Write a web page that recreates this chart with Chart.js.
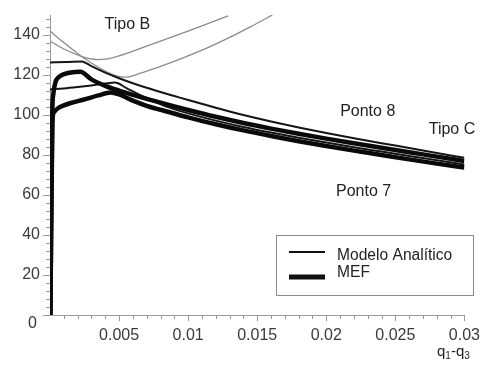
<!DOCTYPE html>
<html>
<head>
<meta charset="utf-8">
<script src="https://cdn.jsdelivr.net/npm/chart.js@4.4.0/dist/chart.umd.min.js"></script>
<style>
  html, body { margin: 0; padding: 0; background: #fff; }
  #wrap { width: 486px; height: 367px; }
</style>
</head>
<body>
<div id="wrap"><canvas id="grafico"></canvas></div>
<script>
// eixos
var xMajor = [0.005, 0.01, 0.015, 0.02, 0.025, 0.03];
var xMajorLabels = ['0.005', '0.01', '0.015', '0.02', '0.025', '0.03'];
var yMajor = [0, 20, 40, 60, 80, 100, 120, 140];
var yMajorLabels = ['0', '20', '40', '60', '80', '100', '120', '140'];

// Modelo Analitico - Ponto 8
var a8X = [0, 0.0012, 0.0023, 0.003, 0.004, 0.005, 0.006, 0.007, 0.008, 0.009, 0.010, 0.012, 0.014, 0.016, 0.018, 0.020, 0.022, 0.024, 0.026, 0.028, 0.030];
var a8Y = [126.3, 126.5, 126.8, 124.4, 121.2, 118.4, 115.9, 113.6, 111.5, 109.5, 107.5, 103.6, 100.0, 96.8, 93.8, 91.0, 88.4, 85.9, 83.5, 81.0, 78.6];

// MEF - Ponto 8
var m8X = [0.00003, 0.00016, 0.00025, 0.0004, 0.0006, 0.0009, 0.0013, 0.0018, 0.0022, 0.003, 0.004, 0.005, 0.006, 0.007, 0.008, 0.009, 0.010, 0.012, 0.014, 0.016, 0.018, 0.020, 0.022, 0.024, 0.026, 0.028, 0.030];
var m8Y = [0, 100, 111, 116.5, 118.7, 120.1, 121, 121.5, 121.6, 117.8, 114.6, 112.2, 110.1, 108.1, 106.2, 104.3, 102.5, 99.1, 96.0, 93.2, 90.6, 88.2, 85.9, 83.6, 81.4, 79.2, 77.0];

// Modelo Analitico - Ponto 7
var a7X = [0, 0.001, 0.002, 0.003, 0.004, 0.0047, 0.0055, 0.0065, 0.0075, 0.0086, 0.010, 0.012, 0.014, 0.016, 0.018, 0.020, 0.022, 0.024, 0.026, 0.028, 0.030];
var a7Y = [112.8, 113.3, 114.0, 114.8, 115.7, 116.2, 113.6, 110.0, 106.9, 103.8, 100.8, 97.2, 94.0, 91.2, 88.6, 86.2, 83.9, 81.7, 79.5, 77.4, 75.3];

// MEF - Ponto 7
var m7X = [0.00003, 0.00017, 0.0003, 0.0006, 0.001, 0.0015, 0.0025, 0.0035, 0.0044, 0.005, 0.006, 0.007, 0.0086, 0.010, 0.012, 0.014, 0.016, 0.018, 0.020, 0.022, 0.024, 0.026, 0.028, 0.030];
var m7Y = [0, 96, 101.5, 103.5, 104.8, 106, 107.8, 109.8, 111.3, 110.3, 107.2, 104.6, 101.5, 98.8, 95.4, 92.3, 89.5, 86.9, 84.5, 82.2, 80.0, 77.8, 75.7, 73.7];

// Tipo B (curvas cinza)
var b1X = [0, 0.001, 0.002, 0.0025, 0.003, 0.0035, 0.004, 0.005, 0.0065, 0.008, 0.0095, 0.011, 0.0129];
var b1Y = [137, 133, 130, 128.8, 128, 127.7, 127.9, 129.6, 133.2, 136.9, 140.7, 144.6, 149.6];
var b2X = [0, 0.001, 0.002, 0.003, 0.004, 0.0048, 0.0055, 0.0065, 0.008, 0.0095, 0.0113, 0.013, 0.0145, 0.0161];
var b2Y = [142, 136.2, 130.8, 126, 122, 119.6, 118.9, 120.8, 124.3, 128.2, 133.3, 138.8, 144.1, 150];

// textos no grafico
var notas = ['Tipo B', 'Ponto 8', 'Tipo C', 'Ponto 7'];
var notasX = [0.0056, 0.0230, 0.0291, 0.0227];
var notasY = [145, 101.5, 92.5, 61.7];

var fonte = "'Liberation Sans', Arial, Helvetica, sans-serif";

function pts(xs, ys) {
  var out = [];
  for (let i = 0; i < xs.length; i++) {
    out.push({x: xs[i], y: ys[i]});
  }
  return out;
}

function linha(dados, cor, largura) {
  return {
    data: dados,
    borderColor: cor,
    borderWidth: largura,
    pointRadius: 0,
    fill: false,
    cubicInterpolationMode: 'monotone'
  };
}

function ehMaiorX(v) {
  return xMajor.some(m => Math.abs(m - v) < 1e-9);
}

var marcas = {
  id: 'marcas',
  afterDraw(chart) {
    var ctx = chart.ctx;
    var xs = chart.scales.x;
    var ys = chart.scales.y;
    var area = chart.chartArea;
    ctx.save();

    // tracinhos dos eixos
    ctx.strokeStyle = '#9a9a9a';
    ctx.lineWidth = 1;
    xs.ticks.forEach(t => {
      if (t.value <= 0) return;
      var px = Math.round(xs.getPixelForValue(t.value)) + 0.5;
      var len = ehMaiorX(t.value) ? 6 : 4;
      ctx.beginPath();
      ctx.moveTo(px, area.bottom);
      ctx.lineTo(px, area.bottom + len);
      ctx.stroke();
    });
    ys.ticks.forEach(t => {
      var py = Math.round(ys.getPixelForValue(t.value)) + 0.5;
      var len = (t.value % 20 === 0) ? 7 : 4;
      ctx.beginPath();
      ctx.moveTo(area.left, py);
      ctx.lineTo(area.left - len, py);
      ctx.stroke();
    });

    // zero do eixo y, um pouco abaixo
    ctx.fillStyle = '#3a3a3a';
    ctx.font = '16px ' + fonte;
    ctx.textAlign = 'right';
    ctx.textBaseline = 'middle';
    ctx.fillText(yMajorLabels[0], area.left - 13, ys.getPixelForValue(0) + 9);

    // textos Tipo / Ponto
    ctx.fillStyle = '#222';
    ctx.textAlign = 'center';
    for (let i = 0; i < notas.length; i++) {
      ctx.fillText(notas[i], xs.getPixelForValue(notasX[i]), ys.getPixelForValue(notasY[i]));
    }

    // legenda
    var lx = area.left + 226, ly = area.top + 220;
    ctx.fillStyle = '#fff';
    ctx.fillRect(lx, ly, 197, 60);
    ctx.strokeStyle = '#8a8a8a';
    ctx.lineWidth = 1;
    ctx.strokeRect(lx + 0.5, ly + 0.5, 197, 60);
    ctx.strokeStyle = '#111';
    ctx.lineWidth = 2;
    ctx.beginPath(); ctx.moveTo(lx + 13, ly + 17); ctx.lineTo(lx + 49, ly + 17); ctx.stroke();
    ctx.lineWidth = 5;
    ctx.beginPath(); ctx.moveTo(lx + 13, ly + 42); ctx.lineTo(lx + 49, ly + 42); ctx.stroke();
    ctx.fillStyle = '#222';
    ctx.font = '15.6px ' + fonte;
    ctx.textAlign = 'left';
    ctx.fillText('Modelo Analítico', lx + 61, ly + 21);
    ctx.fillText('MEF', lx + 61, ly + 38);

    // titulo do eixo x: q1-q3
    ctx.textBaseline = 'alphabetic';
    var tx = 437, tb = 356;
    ctx.font = '15px ' + fonte;
    ctx.fillText('q', tx, tb); tx += ctx.measureText('q').width;
    ctx.font = '10px ' + fonte;
    ctx.fillText('1', tx, tb + 3); tx += ctx.measureText('1').width;
    ctx.font = '15px ' + fonte;
    ctx.fillText('-q', tx, tb); tx += ctx.measureText('-q').width;
    ctx.font = '10px ' + fonte;
    ctx.fillText('3', tx, tb + 3);

    ctx.restore();
  }
};

var ctx = document.getElementById('grafico').getContext('2d');
var grafico = new Chart(ctx, {
  type: 'line',
  data: {
    datasets: [
      linha(pts(m7X, m7Y), '#0a0a0a', 4.5),
      linha(pts(m8X, m8Y), '#0a0a0a', 4.5),
      linha(pts(a7X, a7Y), '#151515', 2),
      linha(pts(a8X, a8Y), '#151515', 2),
      linha(pts(b1X, b1Y), '#8c8c8c', 1.3),
      linha(pts(b2X, b2Y), '#8c8c8c', 1.3)
    ]
  },
  options: {
    responsive: true,
    maintainAspectRatio: false,
    animation: false,
    devicePixelRatio: 1,
    layout: { padding: { top: 15, right: 18, left: 0, bottom: 0 } },
    plugins: {
      legend: { display: false },
      tooltip: { enabled: false }
    },
    scales: {
      x: {
        type: 'linear',
        min: 0,
        max: 0.03,
        afterBuildTicks: function(scale) {
          var t = [];
          for (let i = 0; i <= 30; i++) t.push({value: i / 1000});
          scale.ticks = t;
        },
        afterFit: function(scale) { scale.height = 52; },
        border: { display: true, color: '#9a9a9a', width: 1 },
        grid: { drawOnChartArea: false, drawTicks: true, tickLength: 5, tickColor: 'rgba(0,0,0,0)' },
        ticks: {
          autoSkip: false,
          maxRotation: 0,
          padding: 6,
          color: '#3a3a3a',
          font: { family: fonte, size: 16 },
          callback: function(v) {
            for (let i = 0; i < xMajor.length; i++) {
              if (Math.abs(xMajor[i] - v) < 1e-9) return xMajorLabels[i];
            }
            return '';
          }
        }
      },
      y: {
        min: 0,
        max: 150,
        afterBuildTicks: function(scale) {
          var t = [];
          for (let v = 0; v <= 148; v += 4) t.push({value: v});
          scale.ticks = t;
        },
        afterFit: function(scale) { scale.width = 50; },
        border: { display: true, color: '#9a9a9a', width: 1 },
        grid: { drawOnChartArea: false, drawTicks: true, tickLength: 5, tickColor: 'rgba(0,0,0,0)' },
        ticks: {
          autoSkip: false,
          padding: 5,
          color: '#3a3a3a',
          font: { family: fonte, size: 16 },
          callback: function(v) {
            var i = yMajor.indexOf(v);
            if (i > 0) return yMajorLabels[i];
            return '';
          }
        }
      }
    }
  },
  plugins: [marcas]
});
</script>
</body>
</html>
